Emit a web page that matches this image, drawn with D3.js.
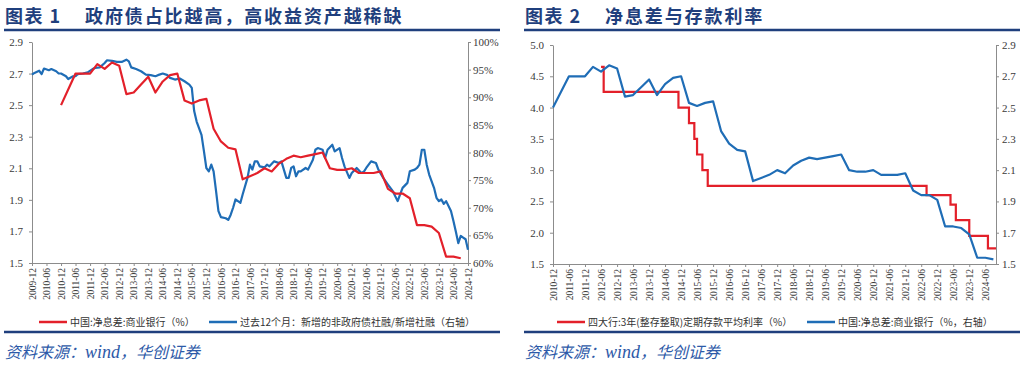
<!DOCTYPE html>
<html><head><meta charset="utf-8">
<script src="https://cdn.jsdelivr.net/npm/d3@7"></script>
<style>
html,body{margin:0;padding:0;background:#fff;}
svg{display:block;}
</style></head>
<body>
<svg id="chart" width="1024" height="370"></svg>
<script>
// ---------- DATA ----------
// Quarterly net interest margin of Chinese commercial banks (%)
const nimDates = ["2010-12","2011-06","2011-09","2011-12",
  "2012-03","2012-06","2012-09","2012-12","2013-03","2013-06","2013-09","2013-12",
  "2014-03","2014-06","2014-09","2014-12","2015-03","2015-06","2015-09","2015-12",
  "2016-03","2016-06","2016-09","2016-12","2017-03","2017-06","2017-09","2017-12",
  "2018-03","2018-06","2018-09","2018-12","2019-03","2019-06","2019-09","2019-12",
  "2020-03","2020-06","2020-09","2020-12","2021-03","2021-06","2021-09","2021-12",
  "2022-03","2022-06","2022-09","2022-12","2023-03","2023-06","2023-09","2023-12",
  "2024-03","2024-06","2024-09"];
const nimValues = [2.50,2.70,2.70,2.70,
  2.76,2.73,2.77,2.75,2.57,2.58,2.63,2.68,
  2.58,2.65,2.69,2.70,2.53,2.51,2.53,2.54,
  2.35,2.27,2.23,2.22,2.03,2.05,2.07,2.10,
  2.08,2.13,2.16,2.18,2.17,2.18,2.19,2.20,
  2.10,2.09,2.09,2.10,2.07,2.07,2.07,2.08,
  1.97,1.94,1.94,1.91,1.74,1.74,1.73,1.69,
  1.54,1.54,1.53];

// Past 12 months: new non-government-bond social financing / new social financing (%)
const shareDates = ["2009-12","2010-01","2010-03","2010-04","2010-05","2010-07","2010-08","2010-10","2010-11","2010-12",
  "2011-02","2011-03","2011-05","2011-06","2011-07","2011-09","2011-11","2012-01","2012-02","2012-04",
  "2012-06","2012-07","2012-09","2012-11","2013-01","2013-03","2013-04","2013-05","2013-07","2013-09",
  "2013-11","2014-01","2014-03","2014-04","2014-06","2014-08","2014-09","2014-11","2015-01","2015-03",
  "2015-05","2015-06","2015-07","2015-08","2015-10","2015-11","2015-12","2016-01","2016-02","2016-03",
  "2016-04","2016-05","2016-06","2016-08","2016-09","2016-10","2016-11","2016-12","2017-01","2017-02",
  "2017-03","2017-05","2017-06","2017-07","2017-08","2017-09","2017-10","2017-12","2018-01","2018-02",
  "2018-04","2018-06","2018-07","2018-09","2018-10","2018-11","2018-12","2019-01","2019-02","2019-03",
  "2019-05","2019-06","2019-08","2019-09","2019-10","2019-12","2020-01","2020-02","2020-04","2020-05",
  "2020-07","2020-08","2020-09","2020-11","2020-12","2021-02","2021-04","2021-05","2021-06","2021-08",
  "2021-10","2021-11","2022-01","2022-03","2022-05","2022-07","2022-08","2022-09","2022-11","2022-12",
  "2023-02","2023-03","2023-04","2023-05","2023-06","2023-07","2023-08","2023-10","2023-11","2023-12",
  "2024-01","2024-02","2024-03","2024-05","2024-06","2024-07","2024-08","2024-09","2024-10","2024-11","2024-12"];
const shareValues = [94.1,94.4,94.8,94.2,95.2,94.9,95.1,94.7,94.3,94.3,
  93.8,93.3,93.8,93.8,94.2,94.3,94.5,95.1,95.3,95.4,
  96.2,96.7,96.6,96.4,96.4,96.8,96.5,95.4,95.1,94.7,
  94.1,94.0,93.8,94.0,94.3,94.0,93.5,93.2,93.4,92.9,
  92.3,91.7,87.5,85.6,83.2,80.2,77.2,76.6,77.8,76.6,
  73.0,69.4,68.3,68.1,67.8,68.7,70.0,71.5,71.2,70.9,
  72.4,75.4,77.8,76.9,78.4,78.4,77.5,77.3,77.8,77.5,
  78.4,78.1,78.4,75.4,75.4,77.2,77.5,75.7,76.6,76.6,
  77.2,76.9,78.7,80.5,80.8,80.5,79.0,80.5,81.4,80.2,
  80.8,79.0,77.5,75.4,76.3,77.2,76.3,76.5,77.2,78.4,
  78.1,76.9,75.4,74.2,73.0,71.2,72.4,73.6,74.5,76.6,
  76.9,77.2,77.8,80.5,80.5,77.8,76.0,73.6,71.8,71.2,
  71.5,70.7,71.2,69.4,67.6,65.7,63.6,64.9,64.6,64.3,62.4];

// Big four banks: 3-year time deposit average rate (%), step changes
const depDates  = ["2012-06","2012-07","2014-11","2015-03","2015-05","2015-06","2015-08","2015-10",
  "2022-08","2023-05","2023-07","2023-12","2024-07","2024-10"];
const depValues = [4.65,4.25,4.00,3.75,3.50,3.25,3.00,2.75,2.60,2.45,2.20,1.95,1.75,1.75];

// Axis ticks
const leftYTicks1  = [1.5,1.7,1.9,2.1,2.3,2.5,2.7,2.9];
const rightYTicks1 = [60,65,70,75,80,85,90,95,100];
const leftYTicks2  = [1.5,2.0,2.5,3.0,3.5,4.0,4.5,5.0];
const rightYTicks2 = [1.5,1.7,1.9,2.1,2.3,2.5,2.7,2.9];

// Text
const title1 = "政府债占比越高，高收益资产越稀缺";
const title2 = "净息差与存款利率";
const legend1 = ["中国:净息差:商业银行（%）","过去12个月：新增的非政府债社融/新增社融（右轴）"];
const legend2 = ["四大行:3年(整存整取)定期存款平均利率（%）","中国:净息差:商业银行（%，右轴）"];

// ---------- DRAW ----------
const parse = d3.timeParse("%Y-%m");
const RED = "#e3202a", BLUE = "#1f6db6", NAVY = "#1f3f7d";
const svg = d3.select("#chart");
const serif = "'Liberation Serif','Times New Roman',serif";
const cjk = "'Noto Sans CJK SC','Noto Sans',sans-serif";

function halfYearTicks(start, end){
  const t=[]; let d=parse(start); const e=parse(end);
  while(d<=e){ t.push(d); d=d3.timeMonth.offset(d,6);} return t;
}

function styleAxis(g){
  g.select(".domain").attr("stroke","#8c8c8c").attr("stroke-width",1);
  g.selectAll(".tick line").attr("stroke","#8c8c8c");
  g.selectAll("text").attr("fill","#3a3a3a").style("font-family",serif);
}

function header(x0, x1, num, text){
  const g = svg.append("g");
  g.append("text").attr("x",x0+1).attr("y",23)
    .style("font-family",cjk).style("font-weight","bold").style("font-size","18px")
    .style("letter-spacing","1.5px").attr("fill",NAVY).text("图表 "+num);
  g.append("text").attr("x",x0+81).attr("y",23)
    .style("font-family",cjk).style("font-weight","bold").style("font-size","18px")
    .style("letter-spacing","1.9px").attr("fill",NAVY).text(text);
  g.append("line").attr("x1",x0).attr("x2",x1).attr("y1",30).attr("y2",30)
    .attr("stroke",NAVY).attr("stroke-width",2.5);
  g.append("line").attr("x1",x0).attr("x2",x1).attr("y1",332).attr("y2",332)
    .attr("stroke",NAVY).attr("stroke-width",2.5);
  const s = g.append("text").attr("x",x0+1).attr("y",358)
    .style("font-size","16px").style("font-style","italic").attr("fill","#2e5aa8");
  s.append("tspan").style("font-family",cjk).text("资料来源：");
  s.append("tspan").style("font-family",serif).style("font-size","18px").text("wind");
  s.append("tspan").style("font-family",cjk).text("，华创证券");
}

function legend(items, xs, y){
  items.forEach((it,i)=>{
    svg.append("line").attr("x1",xs[i]).attr("x2",xs[i]+28).attr("y1",y).attr("y2",y)
      .attr("stroke",it.color).attr("stroke-width",2.5);
    svg.append("text").attr("x",xs[i]+31).attr("y",y+3.5)
      .style("font-family",cjk).style("font-size","10px").attr("fill","#333").text(it.text);
  });
}

// ----- Chart 1 -----
{
  const L=32,R=468,T=42,B=263;
  const x = d3.scaleTime().domain([parse("2009-12"),parse("2024-12")]).range([L,R]);
  const yL = d3.scaleLinear().domain([1.5,2.9]).range([B,T]);
  const yR = d3.scaleLinear().domain([60,100]).range([B,T]);
  header(4,500,"1",title1);

  const gx = svg.append("g").attr("transform",`translate(0,${B})`)
    .call(d3.axisBottom(x).tickValues(halfYearTicks("2009-12","2024-12"))
      .tickFormat(d3.timeFormat("%Y-%m")).tickSize(3).tickSizeOuter(0));
  styleAxis(gx);
  gx.selectAll("text").attr("transform","rotate(-90)").attr("text-anchor","end")
    .attr("x",-5).attr("y",0).attr("dy","0.33em").style("font-size","9.5px");

  const gl = svg.append("g").attr("transform",`translate(${L},0)`)
    .call(d3.axisLeft(yL).tickValues(leftYTicks1).tickFormat(d3.format(".1f")).tickSize(3).tickSizeOuter(0));
  styleAxis(gl); gl.selectAll("text").style("font-size","11px").attr("x",-9);

  const gr = svg.append("g").attr("transform",`translate(${R},0)`)
    .call(d3.axisRight(yR).tickValues(rightYTicks1).tickFormat(d=>d+"%").tickSize(3).tickSizeOuter(0));
  styleAxis(gr); gr.selectAll("text").style("font-size","11px").attr("x",5);

  const blue = shareDates.map((d,i)=>[parse(d),shareValues[i]]);
  svg.append("path").datum(blue).attr("fill","none").attr("stroke",BLUE).attr("stroke-width",2.2)
    .attr("stroke-linejoin","round")
    .attr("d",d3.line().x(d=>x(d[0])).y(d=>yR(d[1])));
  const red = nimDates.map((d,i)=>[parse(d),nimValues[i]]);
  svg.append("path").datum(red).attr("fill","none").attr("stroke",RED).attr("stroke-width",2.2)
    .attr("stroke-linejoin","round")
    .attr("d",d3.line().x(d=>x(d[0])).y(d=>yL(d[1])));

  legend([{color:RED,text:legend1[0]},{color:BLUE,text:legend1[1]}],[39,209],322);
}

// ----- Chart 2 -----
{
  const L=553,R=996,T=45,B=264;
  const x = d3.scaleTime().domain([parse("2010-12"),parse("2024-10")]).range([L,R]);
  const yL = d3.scaleLinear().domain([1.5,5.0]).range([B,T]);
  const yR = d3.scaleLinear().domain([1.5,2.9]).range([B,T]);
  header(524,1020,"2",title2);

  const gx = svg.append("g").attr("transform",`translate(0,${B})`)
    .call(d3.axisBottom(x).tickValues(halfYearTicks("2010-12","2024-06"))
      .tickFormat(d3.timeFormat("%Y-%m")).tickSize(3).tickSizeOuter(0));
  styleAxis(gx);
  gx.selectAll("text").attr("transform","rotate(-90)").attr("text-anchor","end")
    .attr("x",-5).attr("y",0).attr("dy","0.33em").style("font-size","9.5px");

  const gl = svg.append("g").attr("transform",`translate(${L},0)`)
    .call(d3.axisLeft(yL).tickValues(leftYTicks2).tickFormat(d3.format(".1f")).tickSize(3).tickSizeOuter(0));
  styleAxis(gl); gl.selectAll("text").style("font-size","11px").attr("x",-9);

  const gr = svg.append("g").attr("transform",`translate(${R},0)`)
    .call(d3.axisRight(yR).tickValues(rightYTicks2).tickFormat(d3.format(".1f")).tickSize(3).tickSizeOuter(0));
  styleAxis(gr); gr.selectAll("text").style("font-size","11px").attr("x",6);

  const red = depDates.map((d,i)=>[parse(d),depValues[i]]);
  svg.append("path").datum(red).attr("fill","none").attr("stroke",RED).attr("stroke-width",2.2)
    .attr("d",d3.line().curve(d3.curveStepAfter).x(d=>x(d[0])).y(d=>yL(d[1])));
  const blue = nimDates.map((d,i)=>[parse(d),nimValues[i]]);
  svg.append("path").datum(blue).attr("fill","none").attr("stroke",BLUE).attr("stroke-width",2.2)
    .attr("stroke-linejoin","round")
    .attr("d",d3.line().x(d=>x(d[0])).y(d=>yR(d[1])));

  legend([{color:RED,text:legend2[0]},{color:BLUE,text:legend2[1]}],[557,807],322);
}
</script>
</body></html>
